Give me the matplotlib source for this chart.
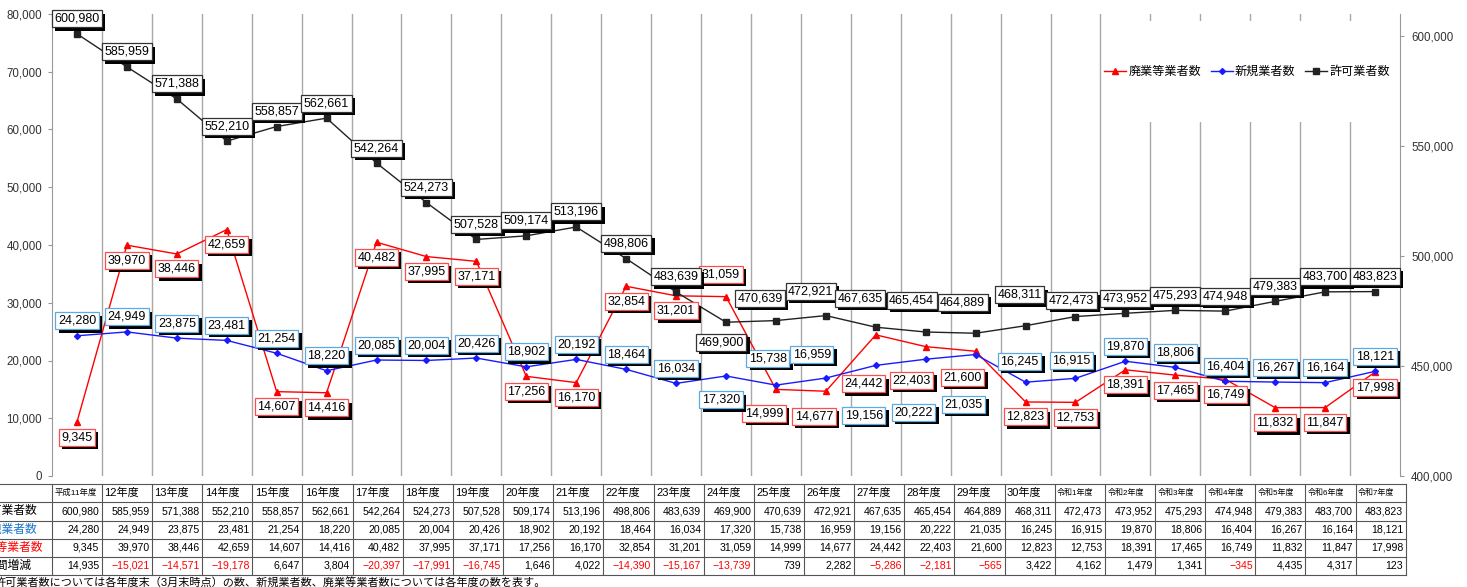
import matplotlib
matplotlib.use('Agg')
import matplotlib.pyplot as plt
import matplotlib.patheffects as pe
from matplotlib.patches import Rectangle
from matplotlib.lines import Line2D
from matplotlib.ticker import FuncFormatter, MultipleLocator

plt.rcParams['font.family'] = ['Liberation Sans', 'Noto Sans CJK JP', 'DejaVu Sans']

# データ
years = ['平成11年度', '12年度', '13年度', '14年度', '15年度', '16年度', '17年度', '18年度',
         '19年度', '20年度', '21年度', '22年度', '23年度', '24年度', '25年度', '26年度',
         '27年度', '28年度', '29年度', '30年度', '令和1年度', '令和2年度', '令和3年度',
         '令和4年度', '令和5年度', '令和6年度', '令和7年度']
kyoka = [600980, 585959, 571388, 552210, 558857, 562661, 542264, 524273, 507528, 509174,
         513196, 498806, 483639, 469900, 470639, 472921, 467635, 465454, 464889, 468311,
         472473, 473952, 475293, 474948, 479383, 483700, 483823]
shinki = [24280, 24949, 23875, 23481, 21254, 18220, 20085, 20004, 20426, 18902,
          20192, 18464, 16034, 17320, 15738, 16959, 19156, 20222, 21035, 16245,
          16915, 19870, 18806, 16404, 16267, 16164, 18121]
haigyo = [9345, 39970, 38446, 42659, 14607, 14416, 40482, 37995, 37171, 17256,
          16170, 32854, 31201, 31059, 14999, 14677, 24442, 22403, 21600, 12823,
          12753, 18391, 17465, 16749, 11832, 11847, 17998]
zougen = [14935, -15021, -14571, -19178, 6647, 3804, -20397, -17991, -16745, 1646,
          4022, -14390, -15167, -13739, 739, 2282, -5286, -2181, -565, 3422,
          4162, 1479, 1341, -345, 4435, 4317, 123]
row_names = ['許可業者数', '新規業者数', '廃業等業者数', '年間増減']

# ラベル位置の例外 (dx, dy) ピクセル, 下向き正
off_kyoka = {13: (-5, 20), 14: (-16, -22), 15: (-15, -24), 16: (-16, -29), 17: (-14, -32),
             18: (-13, -31), 19: (-6, -31), 20: (-4, -16)}
off_shinki = {13: (-5, 24), 14: (-8, -27), 15: (-14, -24), 16: (-12, 50), 17: (-12, 53),
              18: (-12, 50), 19: (-6, -21), 20: (-4, -18)}
off_haigyo = {13: (-5, -22), 14: (-12, 24), 15: (-12, 25), 16: (-12, 49), 17: (-14, 34),
              18: (-13, 26)}

W, H = 1467, 587
fig = plt.figure(figsize=(W / 100, H / 100), dpi=100)
ax = fig.add_axes([52 / W, 1 - 476 / H, 1348 / W, 462 / H])
ax2 = ax.twinx()

x = list(range(len(years)))
hr, = ax.plot(x, haigyo, color='#ff0000', lw=1.0, marker='^', ms=4.5, zorder=3)
hb, = ax.plot(x, shinki, color='#1a1aff', lw=1.0, marker='D', ms=3, zorder=3)
hk, = ax2.plot(x, kyoka, color='#222222', lw=1.0, marker='s', ms=5, zorder=3)

ax.set_xlim(-0.5, len(years) - 0.5)
ax.set_ylim(0, 80000)
ax2.set_ylim(400000, 610000)
ax.yaxis.set_major_locator(MultipleLocator(10000))
ax2.set_yticks([400000, 450000, 500000, 550000, 600000])
fmt = FuncFormatter(lambda v, p: f'{v:,.0f}')
ax.yaxis.set_major_formatter(fmt)
ax2.yaxis.set_major_formatter(fmt)

ax.set_xticks([])
ax.set_xticks([i + 0.5 for i in range(len(years) - 1)], minor=True)
ax.tick_params(axis='x', which='both', length=0)
ax.grid(which='minor', axis='x', color='#a8a8a8', lw=1.0)

for a in (ax, ax2):
    for s in ('top', 'bottom'):
        a.spines[s].set_visible(False)
ax.spines['right'].set_visible(False)
ax2.spines['left'].set_visible(False)
ax.spines['left'].set_color('#999999')
ax2.spines['right'].set_color('#999999')
ax.tick_params(axis='y', direction='out', length=3, color='#999999', labelsize=8.3,
               labelcolor='#333333', pad=4)
ax2.tick_params(axis='y', direction='out', length=3, color='#999999', labelsize=8.3,
                labelcolor='#333333', pad=5)

# 凡例の白い背景
ax2.add_patch(Rectangle((0.7815, 0.766), 0.217, 0.219, transform=ax2.transAxes,
                        facecolor='white', edgecolor='none', zorder=1))
ax2.legend([hr, hb, hk], ['廃業等業者数', '新規業者数', '許可業者数'], loc='center right',
           bbox_to_anchor=(0.9926, 0.874), ncol=3, frameon=False, fontsize=8.7,
           handlelength=1.8, handletextpad=0.2, columnspacing=0.8, borderaxespad=0,
           borderpad=0)


def box_labels(values, trans, edge, offsets, default_dy, z):
    for i, v in enumerate(values):
        dx, dy = offsets.get(i, (0, default_dy))
        t = ax2.annotate(f'{v:,}', xy=(i, v), xycoords=trans, xytext=(dx, -dy),
                         textcoords='offset pixels', ha='center', va='center',
                         fontsize=9, color='black', zorder=z,
                         bbox=dict(boxstyle='square,pad=0.2', fc='white', ec=edge, lw=0.9))
        t.get_bbox_patch().set_path_effects([
            pe.SimplePatchShadow(offset=(2.4, -2.4), shadow_rgbFace='black', alpha=1.0),
            pe.Normal()])


box_labels(haigyo, ax.transData, '#ff4d4d', off_haigyo, 15, 5)
box_labels(shinki, ax.transData, '#5fa8e0', off_shinki, -15, 6)
box_labels(kyoka, ax2.transData, '#333333', off_kyoka, -15, 7)

# 下の表
col_left = 51.7
col_w = 50.15
row_y = [484, 502, 520.5, 539, 557, 575]


def fx(px):
    return px / W


def fy(py):
    return 1 - py / H


for py in row_y:
    fig.add_artist(Line2D([fx(-10), fx(col_left + col_w * len(years))], [fy(py), fy(py)],
                          color='#555555', lw=0.8))
for k in range(len(years) + 1):
    px = col_left + col_w * k
    fig.add_artist(Line2D([fx(px), fx(px)], [fy(row_y[0]), fy(row_y[-1])],
                          color='#555555', lw=0.8))

for i, name in enumerate(years):
    left = col_left + col_w * i
    if name.startswith('平成') or name.startswith('令和'):
        fs = 6 if name.startswith('平成') else 5.8
    else:
        fs = 8
    fig.text(fx(left + 2.5), fy((row_y[0] + row_y[1]) / 2), name, ha='left', va='center',
             fontsize=fs, color='black')

rows = [kyoka, shinki, haigyo, zougen]
row_colors = ['black', '#1a75cf', '#ff0000', 'black']
for r, vals in enumerate(rows):
    cy = fy((row_y[r + 1] + row_y[r + 2]) / 2)
    # 左端は元画像と同じく画面外に切れる
    fig.text(fx(8), cy, row_names[r], ha='center', va='center', fontsize=8.5,
             color=row_colors[r])
    for i, v in enumerate(vals):
        right = col_left + col_w * (i + 1)
        s = f'{v:,}' if v >= 0 else f'\u2212{-v:,}'
        fig.text(fx(right - 2.5), cy, s, ha='right', va='center', fontsize=7.6,
                 color='#ff0000' if v < 0 else 'black')

fig.text(fx(-5), fy(576.5),
         '許可業者数については各年度末（3月末時点）の数、新規業者数、廃業等業者数については各年度の数を表す。',
         ha='left', va='top', fontsize=8, color='black')

fig.savefig('out.png', dpi=100)
